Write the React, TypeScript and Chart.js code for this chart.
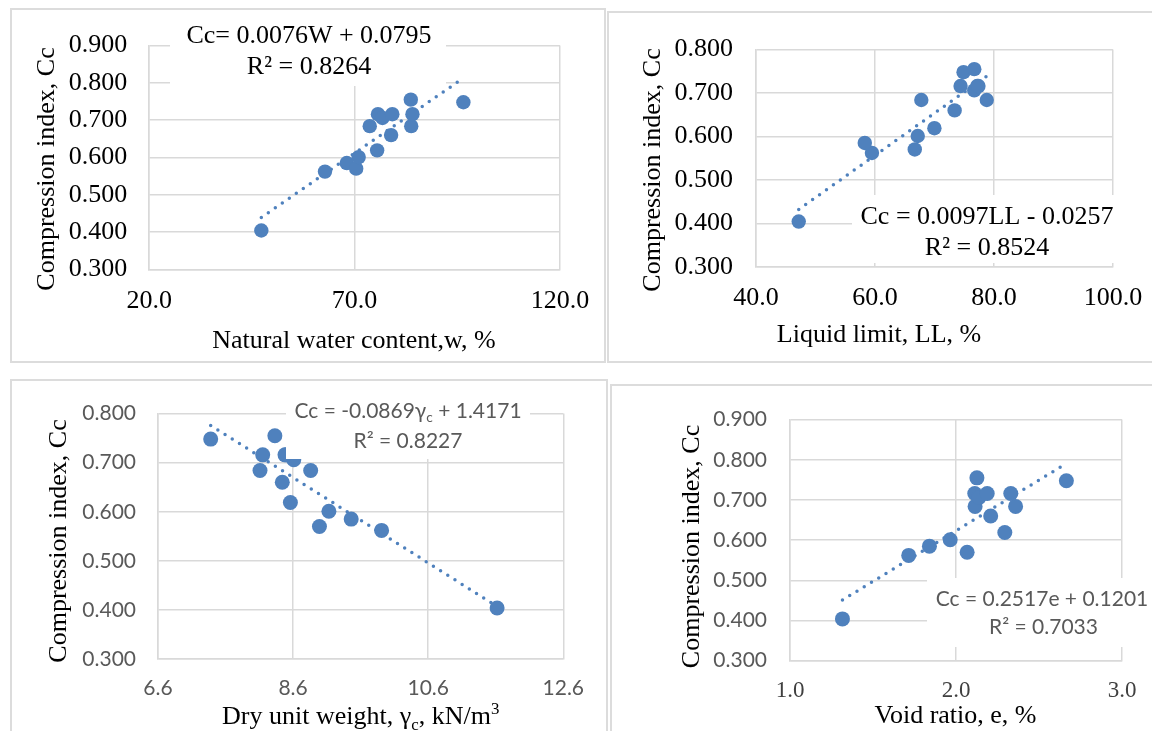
import React, { useEffect, useRef } from "react";
import { Chart, registerables } from "chart.js";

Chart.register(...registerables);

// ---------- data ----------
const compressionIndex = [0.404, 0.562, 0.585, 0.570, 0.601, 0.619, 0.660, 0.684, 0.684, 0.748, 0.755, 0.716, 0.706, 0.716, 0.716];
const waterContent = [47.3, 62.8, 68.1, 70.4, 71.0, 75.5, 78.9, 73.7, 83.8, 96.5, 83.7, 75.7, 76.8, 79.2, 84.1];
const liquidLimit = [47.2, 59.5, 58.3, 66.7, 67.2, 70.0, 73.4, 67.8, 78.8, 74.9, 76.7, 74.4, 76.7, 77.2, 77.4];
const dryUnitWeight = [11.62, 9.91, 9.46, 8.99, 9.13, 8.56, 8.44, 8.86, 8.11, 7.38, 8.33, 8.50, 8.61, 8.48, 8.15];
const voidRatio = [1.316, 1.715, 1.840, 2.067, 1.965, 2.294, 2.209, 2.115, 2.359, 2.665, 2.126, 2.113, 2.139, 2.188, 2.330];

// trend line end points (as drawn)
const trendWaterX = [47.3, 96.5];
const trendWaterY = [0.439, 0.813];
const trendLLX = [47.2, 78.8];
const trendLLY = [0.432, 0.739];
const trendGammaX = [7.38, 11.62];
const trendGammaY = [0.776, 0.407];
const trendVoidX = [1.316, 2.665];
const trendVoidY = [0.451, 0.791];

// tick values
const xTicksWater = [20, 70, 120];
const yTicksWater = [0.3, 0.4, 0.5, 0.6, 0.7, 0.8, 0.9];
const xTicksLL = [40, 60, 80, 100];
const yTicksLL = [0.3, 0.4, 0.5, 0.6, 0.7, 0.8];
const xTicksGamma = [6.6, 8.6, 10.6, 12.6];
const yTicksGamma = [0.3, 0.4, 0.5, 0.6, 0.7, 0.8];
const xTicksVoid = [1, 2, 3];
const yTicksVoid = [0.3, 0.4, 0.5, 0.6, 0.7, 0.8, 0.9];

// texts
const yTitle = "Compression index, Cc";
const eqWater = ["Cc= 0.0076W + 0.0795", "R² = 0.8264"];
const eqLL = ["Cc = 0.0097LL - 0.0257", "R² = 0.8524"];
const eqGamma = ["Cc = -0.0869", "γ", "c", " + 1.4171", "R² = 0.8227"];
const eqVoid = ["Cc = 0.2517e + 0.1201", "R² = 0.7033"];

// ---------- styles ----------
const BLUE = "#4F81BD";
const GRID = "#d9d9d9";
const SERIF = '"Liberation Serif", "Times New Roman", serif';
const SANS = 'Lato, "Liberation Sans", sans-serif';

type Seg = { t: string; sub?: boolean; sup?: boolean };
type TextItem = { segs: Seg[]; x: number; y: number; font: string; size: number; color: string; rotate?: boolean };

const serifText = (t: string, x: number, y: number, rotate = false): TextItem => ({
  segs: [{ t }], x, y, font: SERIF, size: 26, color: "#000", rotate,
});

const PANELS = [
  {
    id: "w",
    frame: { x: 10, y: 8, w: 596, h: 355 },
    plot: { l: 149.2, t: 37.3, r: 559.9, b: 269.3 },
    xs: waterContent, ys: compressionIndex, trendX: trendWaterX, trendY: trendWaterY,
    xMin: 20, xMax: 120, yMin: 0.3, yMax: 0.9, xTicks: xTicksWater, yTicks: yTicksWater, xDec: 1, yDec: 3,
    xTickFont: { family: SERIF, size: 26 }, xTickColor: "#000", xPad: 16,
    yTickFont: { family: SERIF, size: 26 }, yTickColor: "#000", yPad: 22,
    radius: 7.2,
    boxes: [{ x0: 170, y0: 12, x1: 446, y1: 86 }],
    texts: [
      serifText(eqWater[0], 309, 43),
      serifText(eqWater[1], 309, 74),
      serifText("Natural water content,w, %", 354, 348),
      serifText(yTitle, 54, 169, true),
    ],
  },
  {
    id: "ll",
    frame: { x: 607, y: 11, w: 560, h: 352 },
    plot: { l: 755.9, t: 37.3, r: 1112.9, b: 266.7 },
    xs: liquidLimit, ys: compressionIndex, trendX: trendLLX, trendY: trendLLY,
    xMin: 40, xMax: 100, yMin: 0.3, yMax: 0.8, xTicks: xTicksLL, yTicks: yTicksLL, xDec: 1, yDec: 3,
    xTickFont: { family: SERIF, size: 26 }, xTickColor: "#000", xPad: 16,
    yTickFont: { family: SERIF, size: 26 }, yTickColor: "#000", yPad: 23,
    radius: 7.2,
    boxes: [{ x0: 852, y0: 195, x1: 1160, y1: 263 }],
    texts: [
      serifText(eqLL[0], 987, 224),
      serifText(eqLL[1], 987, 255),
      serifText("Liquid limit, LL, %", 879, 342),
      serifText(yTitle, 659.5, 170, true),
    ],
  },
  {
    id: "g",
    frame: { x: 10, y: 379, w: 598, h: 400 },
    plot: { l: 158, t: 408.3, r: 563.3, b: 659 },
    xs: dryUnitWeight, ys: compressionIndex, trendX: trendGammaX, trendY: trendGammaY,
    xMin: 6.6, xMax: 12.6, yMin: 0.3, yMax: 0.8, xTicks: xTicksGamma, yTicks: yTicksGamma, xDec: 1, yDec: 3,
    xTickFont: { family: SANS, size: 21 }, xTickColor: "#595959", xPad: 17,
    yTickFont: { family: SANS, size: 21 }, yTickColor: "#595959", yPad: 22,
    radius: 7.5,
    boxes: [{ x0: 286, y0: 399, x1: 530, y1: 459 }],
    texts: [
      {
        segs: [{ t: eqGamma[0] }, { t: eqGamma[1] }, { t: eqGamma[2], sub: true }, { t: eqGamma[3] }],
        x: 408, y: 417.7, font: SANS, size: 21, color: "#595959",
      },
      { segs: [{ t: eqGamma[4] }], x: 408, y: 447.7, font: SANS, size: 21, color: "#595959" },
      {
        segs: [{ t: "Dry unit weight, γ" }, { t: "c", sub: true }, { t: ", kN/m" }, { t: "3", sup: true }],
        x: 360.7, y: 724, font: SERIF, size: 26, color: "#000",
      },
      serifText(yTitle, 66, 541, true),
    ],
  },
  {
    id: "e",
    frame: { x: 610, y: 384, w: 560, h: 400 },
    plot: { l: 790, t: 414, r: 1122, b: 660.7 },
    xs: voidRatio, ys: compressionIndex, trendX: trendVoidX, trendY: trendVoidY,
    xMin: 1, xMax: 3, yMin: 0.3, yMax: 0.9, xTicks: xTicksVoid, yTicks: yTicksVoid, xDec: 1, yDec: 3,
    xTickFont: { family: SERIF, size: 23 }, xTickColor: "#404040", xPad: 16,
    yTickFont: { family: SANS, size: 21 }, yTickColor: "#595959", yPad: 23,
    radius: 7.5,
    boxes: [{ x0: 927, y0: 578, x1: 1160, y1: 647 }],
    texts: [
      { segs: [{ t: eqVoid[0] }], x: 1042, y: 605.7, font: SANS, size: 21, color: "#595959" },
      { segs: [{ t: eqVoid[1] }], x: 1043.5, y: 634, font: SANS, size: 21, color: "#595959" },
      serifText("Void ratio, e, %", 955.5, 723),
      serifText(yTitle, 699, 546.5, true),
    ],
  },
];

type Panel = (typeof PANELS)[number];

function drawRich(ctx: CanvasRenderingContext2D, item: TextItem, ox: number, oy: number) {
  ctx.save();
  const fontFor = (s: Seg) => `${s.sub || s.sup ? item.size * 0.65 : item.size}px ${item.font}`;
  let total = 0;
  const widths = item.segs.map((s) => {
    ctx.font = fontFor(s);
    const w = ctx.measureText(s.t).width;
    total += w;
    return w;
  });
  ctx.translate(item.x - ox, item.y - oy);
  if (item.rotate) ctx.rotate(-Math.PI / 2);
  ctx.fillStyle = item.color;
  ctx.textBaseline = "alphabetic";
  ctx.textAlign = "left";
  let cx = -total / 2;
  item.segs.forEach((s, i) => {
    ctx.font = fontFor(s);
    const dy = s.sub ? item.size * 0.22 : s.sup ? -item.size * 0.38 : 0;
    ctx.fillText(s.t, cx, dy);
    cx += widths[i];
  });
  ctx.restore();
}

function buildConfig(p: Panel): any {
  const { frame, plot } = p;
  const L = plot.l - frame.x;
  const T = plot.t - frame.y;
  const R = plot.r - frame.x;
  const B = plot.b - frame.y;
  const annot = {
    id: "annot_" + p.id,
    afterDraw(chart: any) {
      const ctx: CanvasRenderingContext2D = chart.ctx;
      ctx.save();
      ctx.fillStyle = "#ffffff";
      p.boxes.forEach((b) => ctx.fillRect(b.x0 - frame.x, b.y0 - frame.y, b.x1 - b.x0, b.y1 - b.y0));
      ctx.restore();
      p.texts.forEach((t: any) => drawRich(ctx, t, frame.x, frame.y));
    },
  };
  return {
    type: "scatter",
    data: {
      datasets: [
        {
          data: p.xs.map((x, i) => ({ x, y: p.ys[i] })),
          backgroundColor: BLUE,
          borderColor: BLUE,
          borderWidth: 0,
          pointRadius: p.radius,
          pointHoverRadius: p.radius,
          order: 0,
        },
        {
          data: p.trendX.map((x, i) => ({ x, y: p.trendY[i] })),
          showLine: true,
          borderColor: BLUE,
          borderWidth: 3.5,
          borderDash: [0, 8.5],
          borderCapStyle: "round",
          pointRadius: 0,
          pointHoverRadius: 0,
          fill: false,
          order: 1,
        },
      ],
    },
    options: {
      responsive: false,
      animation: false,
      devicePixelRatio: 1,
      events: [],
      layout: { padding: { left: 0, top: T, right: frame.w - R, bottom: 0 } },
      plugins: { legend: { display: false }, tooltip: { enabled: false }, title: { display: false } },
      scales: {
        x: {
          type: "linear",
          position: "bottom",
          min: p.xMin,
          max: p.xMax,
          afterBuildTicks: (s: any) => {
            s.ticks = p.xTicks.map((v) => ({ value: v }));
          },
          afterFit: (s: any) => {
            s.height = frame.h - B;
          },
          grid: { color: GRID, lineWidth: 1.5, drawTicks: false },
          border: { display: true, color: GRID, width: 1.5 },
          ticks: {
            font: p.xTickFont,
            color: p.xTickColor,
            padding: p.xPad,
            maxRotation: 0,
            autoSkip: false,
            callback: (v: any) => Number(v).toFixed(p.xDec),
          },
        },
        y: {
          type: "linear",
          position: "left",
          min: p.yMin,
          max: p.yMax,
          afterBuildTicks: (s: any) => {
            s.ticks = p.yTicks.map((v) => ({ value: v }));
          },
          afterFit: (s: any) => {
            s.width = L;
          },
          grid: { color: GRID, lineWidth: 1.5, drawTicks: false },
          border: { display: true, color: GRID, width: 1.5 },
          ticks: {
            font: p.yTickFont,
            color: p.yTickColor,
            padding: p.yPad,
            autoSkip: false,
            callback: (v: any) => Number(v).toFixed(p.yDec),
          },
        },
      },
    },
    plugins: [annot],
  };
}

function ChartPanel({ p }: { p: Panel }) {
  const ref = useRef<HTMLCanvasElement>(null);
  useEffect(() => {
    const canvas = ref.current;
    if (!canvas) return;
    const chart = new Chart(canvas, buildConfig(p));
    return () => chart.destroy();
  }, [p]);
  const { frame } = p;
  return (
    <>
      <canvas
        ref={ref}
        width={frame.w}
        height={frame.h}
        style={{ position: "absolute", left: frame.x, top: frame.y, width: frame.w, height: frame.h }}
      />
      <div
        style={{
          position: "absolute",
          left: frame.x,
          top: frame.y,
          width: frame.w,
          height: frame.h,
          boxSizing: "border-box",
          border: "2px solid #dcdcdc",
          pointerEvents: "none",
        }}
      />
    </>
  );
}

export default function App() {
  return (
    <div
      style={{
        position: "absolute",
        left: 0,
        top: 0,
        width: 1152,
        height: 731,
        overflow: "hidden",
        background: "#ffffff",
      }}
    >
      {PANELS.map((p) => (
        <ChartPanel key={p.id} p={p} />
      ))}
    </div>
  );
}
